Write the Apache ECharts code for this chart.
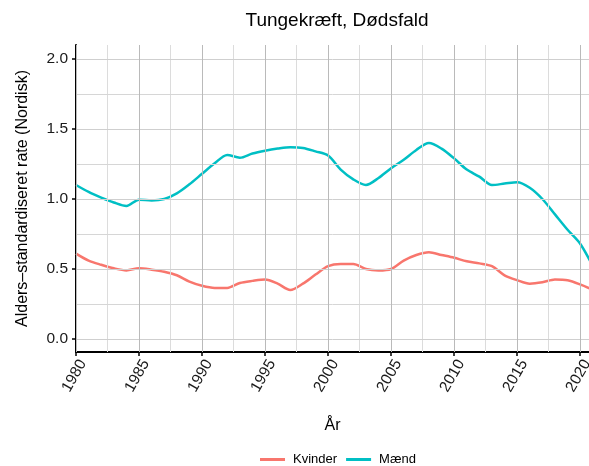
<!DOCTYPE html>
<html><head><meta charset="utf-8">
<script src="https://cdn.jsdelivr.net/npm/echarts@6/dist/echarts.min.js"></script>
<style>html,body{margin:0;padding:0;background:#fff}#c{width:589px;height:466px}</style>
</head><body><div id="c"></div>
<script>
const years = [1980,1981,1982,1983,1984,1985,1986,1987,1988,1989,1990,1991,1992,1993,1994,1995,1996,1997,1998,1999,2000,2001,2002,2003,2004,2005,2006,2007,2008,2009,2010,2011,2012,2013,2014,2015,2016,2017,2018,2019,2020,2021];
const kvinder = [0.61,0.56,0.53,0.505,0.49,0.505,0.495,0.48,0.455,0.41,0.38,0.365,0.365,0.40,0.415,0.425,0.395,0.35,0.395,0.46,0.52,0.535,0.535,0.50,0.49,0.50,0.56,0.60,0.62,0.60,0.58,0.555,0.54,0.52,0.455,0.42,0.395,0.405,0.425,0.42,0.39,0.35];
const maend = [1.10,1.05,1.01,0.975,0.95,0.995,0.99,1.00,1.04,1.105,1.18,1.255,1.315,1.295,1.325,1.345,1.36,1.37,1.365,1.34,1.31,1.21,1.14,1.10,1.15,1.22,1.28,1.35,1.40,1.36,1.29,1.21,1.16,1.10,1.11,1.12,1.08,1.00,0.89,0.78,0.68,0.52];
const xTicks = [1980,1985,1990,1995,2000,2005,2010,2015,2020];
const xMinor = [1982.5,1987.5,1992.5,1997.5,2002.5,2007.5,2012.5,2017.5];
const yTicks = [0,0.5,1.0,1.5,2.0];
const yMinor = [0.25,0.75,1.25,1.75];

const font = 'Liberation Sans, Arial, sans-serif';
const chart = echarts.init(document.getElementById('c'));
const gridLines = [].concat(
  xMinor.map(v => ({xAxis: v, lineStyle: {color: '#dcdcdc', width: 1, type: 'solid'}})),
  yMinor.map(v => ({yAxis: v, lineStyle: {color: '#d6d6d6', width: 1, type: 'solid'}})),
  yTicks.map(v => ({yAxis: v, lineStyle: {color: '#cfcfcf', width: 1, type: 'solid'}})),
  xTicks.map(v => ({xAxis: v, lineStyle: {color: '#bababa', width: 1, type: 'solid'}}))
);
chart.setOption({
  animation: false,
  textStyle: {fontFamily: font},
  title: {text: 'Tungekræft, Dødsfald', left: 332, textAlign: 'center', top: 6,
    textStyle: {fontFamily: font, fontSize: 19, fontWeight: 'normal', color: '#000'}},
  grid: {left: 76, right: 0, top: 45, bottom: 114, containLabel: false, outerBoundsMode: 'none'},
  legend: {bottom: 0, left: 260, padding: 0, itemWidth: 25, itemHeight: 3, itemGap: 9, icon: 'rect',
    textStyle: {fontFamily: font, fontSize: 13, color: '#000', padding: [0, 0, 0, 3]},
    data: ['Kvinder', 'Mænd']},
  xAxis: {type: 'value', min: 1980, max: 2020.7,
    name: 'År', nameLocation: 'middle', nameGap: 66,
    nameTextStyle: {fontFamily: font, fontSize: 16, color: '#000'},
    axisLine: {show: true, onZero: false, lineStyle: {color: '#000', width: 2}},
    axisTick: {show: true, length: 4, customValues: xTicks, lineStyle: {color: '#000', width: 1.5}},
    axisLabel: {customValues: xTicks, rotate: 60, margin: 5, fontSize: 15.5, color: '#1a1a1a', fontFamily: font,
      align: 'right', verticalAlign: 'top', formatter: v => String(v)},
    splitLine: {show: false}},
  yAxis: {type: 'value', min: -0.093, max: 2.1,
    name: 'Alders–standardiseret rate (Nordisk)', nameLocation: 'middle', nameGap: 45,
    nameTextStyle: {fontFamily: font, fontSize: 16, color: '#000'},
    axisLine: {show: true, onZero: false, lineStyle: {color: '#000', width: 2}},
    axisTick: {show: true, length: 4, customValues: yTicks, lineStyle: {color: '#000', width: 1.5}},
    axisLabel: {customValues: yTicks, margin: 8, fontSize: 15.5, color: '#1a1a1a', fontFamily: font,
      formatter: v => v.toFixed(1)},
    splitLine: {show: false}},
  series: [
    {type: 'line', name: 'grid', data: [], z: 1, silent: true,
     markLine: {silent: true, symbol: 'none', label: {show: false}, animation: false, data: gridLines}},
    {type: 'line', name: 'Kvinder', data: years.map((y, i) => [y, kvinder[i]]), smooth: 0.3, showSymbol: false,
     z: 3, lineStyle: {color: '#F8766D', width: 2.5}, itemStyle: {color: '#F8766D'}},
    {type: 'line', name: 'Mænd', data: years.map((y, i) => [y, maend[i]]), smooth: 0.3, showSymbol: false,
     z: 3, lineStyle: {color: '#00BFC4', width: 2.5}, itemStyle: {color: '#00BFC4'}}
  ]
});
</script></body></html>
